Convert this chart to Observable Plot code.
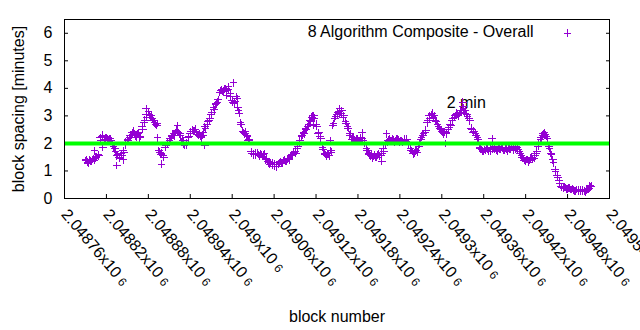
<!DOCTYPE html>
<html><head><meta charset="utf-8">
<script src="https://cdn.jsdelivr.net/npm/d3@7"></script>
<script src="https://cdn.jsdelivr.net/npm/@observablehq/plot@0.6"></script>
<style>html,body{margin:0;padding:0;background:#fff;overflow:hidden;}</style>
</head><body><div id="chart"></div>
<script>
const seriesLabel = "8 Algorithm Composite - Overall";
const xLabel = "block number";
const yLabel = "block spacing [minutes]";
const refLabel = "2 min";
const refValue = 2;
const refLabelBlock = 2049307;
const refLabelSpacing = 3.48;

// one reading every 3 blocks, starting at this block
const firstBlock = 2048790;
const blockStep = 3;
const spacingPart1 = [
  1.38,1.32,1.40,1.35,1.45,1.52,1.60,2.20,2.25,2.15,
  2.22,2.12,2.18,1.95,1.80,1.55,1.50,1.62,1.75,1.95,
  2.15,2.22,2.30,2.45,2.28,2.35,2.20,2.60,2.75,3.05,
  3.15,2.95,2.90,2.75,2.65,1.75,1.60,1.55,1.85,2.05,
  2.12,2.25,2.35,2.40,2.45,2.35,2.05,1.98,1.95,2.20,
  2.35,2.50,2.45,2.38,2.30,2.25,2.30,2.60,2.70,2.85,
  3.05,3.30,3.40,3.50,3.85,3.95,3.90,4.00,4.05,3.80,
  3.55,3.45,3.70,3.20,2.75,2.45,2.35,2.30,2.15,1.70
];
const spacingPart2 = [
  1.62,1.58,1.65,1.55,1.60,1.58,1.40,1.35,1.25,1.30,
  1.18,1.22,1.25,1.35,1.30,1.40,1.35,1.45,1.55,1.60,
  1.72,1.80,2.05,2.25,2.40,2.55,2.60,2.85,2.95,3.00,
  2.70,2.35,2.25,1.85,1.65,1.55,1.62,1.75,2.65,2.90,
  3.05,3.15,3.10,2.95,2.80,2.60,2.30,2.15,2.20,2.10,
  2.15,2.12,2.18,2.05,1.80,1.65,1.55,1.45,1.60,1.50,
  1.62,1.55,1.80,1.95,2.05,2.15,2.08,2.12,2.10,2.18,
  2.05,2.10,2.15,2.08,2.00,1.80,1.70,1.65,1.75,1.90
];
const spacingPart3 = [
  2.15,2.30,2.40,2.75,3.00,3.05,2.95,2.85,2.70,2.55,
  2.45,2.35,2.40,2.50,2.70,2.85,2.95,3.10,3.00,3.20,
  3.35,3.10,3.05,2.90,2.55,2.40,2.35,2.20,1.85,1.78,
  1.70,1.75,1.80,1.72,1.85,1.80,1.75,1.85,1.78,1.82,
  1.75,1.80,1.85,1.78,1.82,1.80,1.85,1.72,1.55,1.45,
  1.35,1.42,1.38,1.50,1.45,1.65,1.90,2.15,2.30,2.40,
  2.25,1.90,1.65,1.40,1.05,0.85,0.65,0.42,0.38,0.40,
  0.35,0.38,0.32,0.30,0.28,0.32,0.25,0.30,0.27,0.30,
  0.35,0.42
];
// the in-between readings, one block after each reading above
const altFirstBlock = 2048791;
const altSpacingPart1 = [
  1.42,1.28,1.36,1.42,1.38,1.50,1.55,2.12,2.30,2.20,
  2.15,2.18,2.10,1.88,1.72,1.60,1.45,1.55,1.68,2.05,
  2.10,2.28,2.38,2.35,2.22,2.40,2.25,2.52,2.85,2.95,
  3.05,3.00,2.82,2.70,2.72,1.68,1.65,1.50,1.92,2.00,
  2.18,2.30,2.28,2.48,2.40,2.28,2.12,1.92,2.02,2.25,
  2.42,2.45,2.52,2.32,2.35,2.20,2.38,2.55,2.78,2.92,
  3.12,3.22,3.45,3.58,3.92,3.88,3.98,3.92,3.95,3.72,
  3.48,3.52,3.62,3.10,2.68,2.40,2.42,2.25,2.10,1.65
];
const altSpacingPart2 = [
  1.58,1.65,1.60,1.62,1.52,1.62,1.45,1.30,1.28,1.22,
  1.25,1.15,1.30,1.28,1.38,1.35,1.42,1.40,1.60,1.68,
  1.65,1.88,2.12,2.30,2.35,2.50,2.68,2.78,3.00,2.92,
  2.62,2.40,2.18,1.78,1.60,1.62,1.55,1.68,2.72,2.98,
  3.12,3.08,3.18,3.02,2.72,2.55,2.35,2.20,2.12,2.18,
  2.08,2.20,2.10,2.00,1.75,1.58,1.62,1.52,1.50,1.58,
  1.55,1.65,1.72,2.00,2.12,2.08,2.15,2.05,2.18,2.12,
  2.10,2.05,2.12,2.15,1.95,1.75,1.62,1.72,1.68,1.98
];
const altSpacingPart3 = [
  2.22,2.35,2.48,2.82,2.92,3.10,3.02,2.80,2.62,2.50,
  2.40,2.42,2.35,2.58,2.65,2.92,3.02,3.05,3.08,3.12,
  3.28,3.18,2.98,2.82,2.50,2.45,2.28,2.15,1.80,1.72,
  1.78,1.82,1.72,1.80,1.78,1.88,1.72,1.80,1.85,1.75,
  1.82,1.72,1.80,1.85,1.75,1.88,1.78,1.65,1.50,1.38,
  1.42,1.32,1.48,1.42,1.55,1.72,1.98,2.20,2.35,2.32,
  2.18,1.82,1.58,1.30,0.98,0.78,0.55,0.40,0.42,0.35,
  0.38,0.33,0.36,0.27,0.32,0.26,0.30,0.28,0.24,0.34,
  0.38,0.45
];
const outlierBlocks = [
  2048803,2048815,2048835,2048844,2048877,2048893,2048899,2048922,
  2048931,2048961,2048992,2049002,2049008,2049023,2049116,2049140,
  2049154,2049186,2049214,2049221,2049305,2049330,2049372,2049512
];
const outlierSpacing = [
  1.75,1.85,1.20,1.40,3.27,2.20,1.25,2.65,
  2.10,1.93,3.75,4.20,3.30,2.10,2.65,2.10,
  3.27,2.40,1.35,2.35,2.00,3.50,2.18,0.47
];
const xTicks = [2048760,2048820,2048880,2048940,2049000,2049060,2049120,
  2049180,2049240,2049300,2049360,2049420,2049480,2049540];
const yTicks = [0,1,2,3,4,5,6];

const spacing = [...spacingPart1, ...spacingPart2, ...spacingPart3];
const altSpacing = [...altSpacingPart1, ...altSpacingPart2, ...altSpacingPart3];
const points = spacing.map((s, i) => ({block: firstBlock + i * blockStep, spacing: s}))
  .concat(altSpacing.map((s, i) => ({block: altFirstBlock + i * blockStep, spacing: s})))
  .concat(outlierBlocks.map((b, i) => ({block: b, spacing: outlierSpacing[i]})));

const purple = "#9400d3";
const cross = {draw(ctx, size) {
  const r = Math.sqrt(size / Math.PI);
  ctx.moveTo(-r, 0); ctx.lineTo(r, 0);
  ctx.moveTo(0, -r); ctx.lineTo(0, r);
}};
const font = "'Liberation Sans', Arial, sans-serif";

const chart = Plot.plot({
  width: 640, height: 330,
  marginLeft: 64, marginRight: 31, marginTop: 19, marginBottom: 132,
  style: {fontFamily: font, fontSize: "16px", background: "#fff", color: "#000"},
  x: {domain: [2048760, 2049540]},
  y: {domain: [0, 6.5]},
  marks: [
    Plot.axisY({ticks: yTicks, tickSize: -4, tickPadding: 16, fontSize: 16, label: null,
      tickFormat: d => String(d)}),
    Plot.axisY({ticks: yTicks, anchor: "right", tickSize: -4, tickFormat: () => "", label: null}),
    Plot.axisX({ticks: xTicks, tickSize: -4, tickFormat: () => "", label: null}),
    Plot.text(xTicks, {x: d => d, frameAnchor: "bottom", dy: 13, rotate: 50,
      textAnchor: "start", lineAnchor: "middle", fontSize: 16,
      text: d => `${+(d / 1e6).toPrecision(6)}x10`}),
    Plot.text([xLabel], {frameAnchor: "bottom", dy: 118, text: d => d, fontSize: 16,
      textAnchor: "middle", lineAnchor: "middle"}),
    Plot.text([yLabel], {frameAnchor: "left", dx: -46, rotate: -90, text: d => d, fontSize: 16,
      textAnchor: "middle", lineAnchor: "middle"}),
    Plot.text([seriesLabel], {frameAnchor: "top-right", dx: -76, dy: 12.6, text: d => d,
      textAnchor: "end", lineAnchor: "middle", fontSize: 16}),
    Plot.dot([0], {frameAnchor: "top-right", dx: -42, dy: 13.7, symbol: cross, r: 3.8,
      stroke: purple, fill: "none", strokeWidth: 1, shapeRendering: "crispEdges"}),
    Plot.text([{b: refLabelBlock, s: refLabelSpacing, t: refLabel}],
      {x: "b", y: "s", text: "t", textAnchor: "start", lineAnchor: "middle", fontSize: 16}),
    Plot.dot(points, {x: "block", y: "spacing", symbol: cross, r: 3.8,
      stroke: purple, fill: "none", strokeWidth: 1, shapeRendering: "crispEdges"}),
    Plot.ruleY([refValue], {stroke: "#00ff00", strokeWidth: 4}),
    Plot.frame({stroke: "#000"})
  ]
});

chart.querySelectorAll("text").forEach(t => {
  if (/x10$/.test(t.textContent)) {
    const ts = document.createElementNS("http://www.w3.org/2000/svg", "tspan");
    ts.setAttribute("font-size", "12");
    ts.setAttribute("dx", "4");
    ts.textContent = "6";
    t.appendChild(ts);
  }
});
document.getElementById("chart").appendChild(chart);
</script>
</body></html>
